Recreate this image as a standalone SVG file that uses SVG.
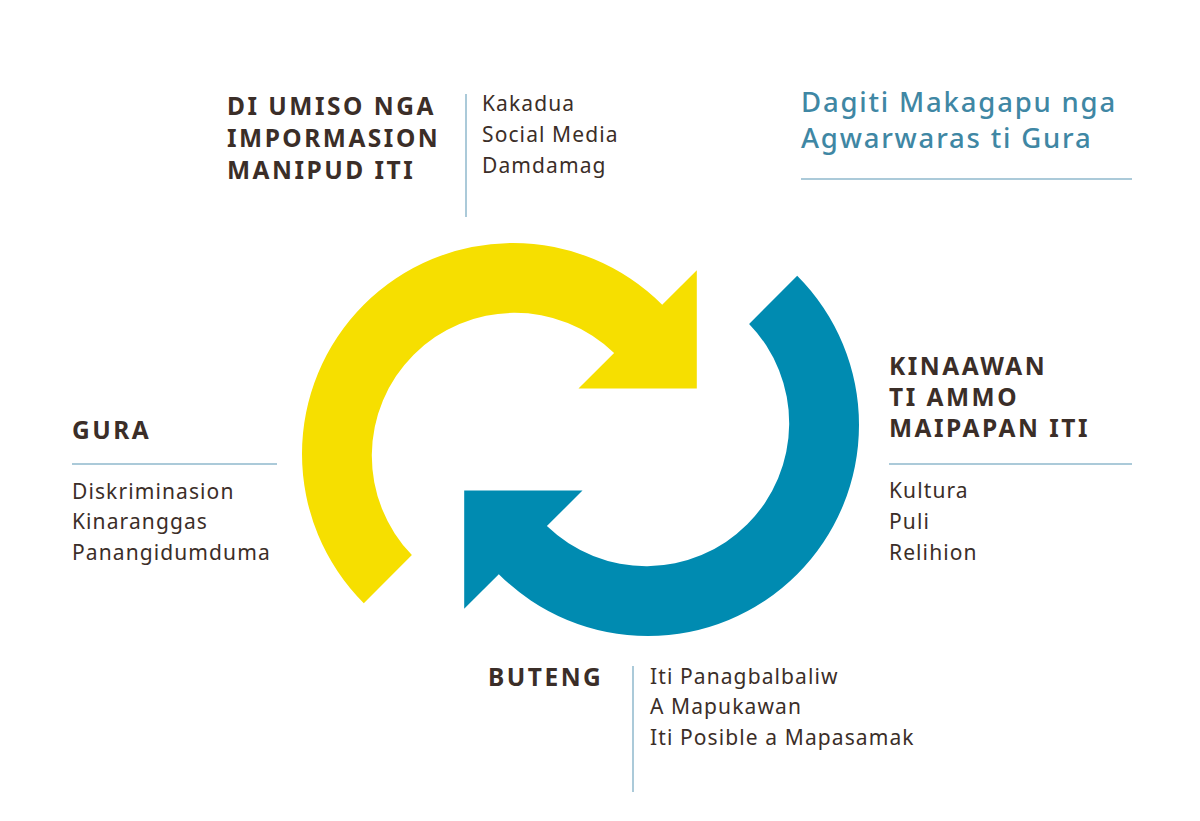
<svg xmlns="http://www.w3.org/2000/svg" width="1200" height="821" viewBox="0 0 1200 821">
<style>
.h{font-family:"Noto Sans","DejaVu Sans",sans-serif;font-weight:bold;font-size:24.5px;letter-spacing:2.5px;fill:#3b2e28}
.t{font-family:"Noto Sans","DejaVu Sans",sans-serif;font-size:21px;letter-spacing:1.1px;fill:#3b2e28}
.ti{font-family:"Noto Sans","DejaVu Sans",sans-serif;font-size:27.5px;font-weight:500;letter-spacing:1.8px;fill:#3f87a4}
.rule{stroke:#8fb9cc;stroke-width:1.5;fill:none}
</style>
<defs>
<path id="arrow" d="M363.8,603.2 A211,211 0 0 1 662.2,304.8 L696.8,270.2 L696.8,388.5 L578.5,388.5 L614.1,352.9 A143,143 0 0 0 411.9,555.1 Z"/>
</defs>
<g id="connectors">
<use href="#arrow" fill="#f6df00"/>
<use href="#arrow" fill="#008bb1" transform="rotate(180 580.5 439.5)"/>
</g>
<g id="title">
<text class="ti" x="801" y="112">Dagiti Makagapu nga</text>
<text class="ti" x="801" y="148">Agwarwaras ti Gura</text>
<line class="rule" x1="801" y1="179" x2="1132" y2="179"/>
</g>
<g id="source">
<text class="h" x="227" y="115">DI UMISO NGA</text>
<text class="h" x="227" y="147">IMPORMASION</text>
<text class="h" x="227" y="179">MANIPUD ITI</text>
<line class="rule" x1="466" y1="94" x2="466" y2="217"/>
<text class="t" x="482" y="111">Kakadua</text>
<text class="t" x="482" y="142">Social Media</text>
<text class="t" x="482" y="173">Damdamag</text>
</g>
<g id="gura">
<text class="h" x="72" y="439">GURA</text>
<line class="rule" x1="72" y1="464" x2="277" y2="464"/>
<text class="t" x="72" y="499">Diskriminasion</text>
<text class="t" x="72" y="529">Kinaranggas</text>
<text class="t" x="72" y="560">Panangidumduma</text>
</g>
<g id="kinaawan">
<text class="h" x="889" y="375">KINAAWAN</text>
<text class="h" x="889" y="406">TI AMMO</text>
<text class="h" x="889" y="437">MAIPAPAN ITI</text>
<line class="rule" x1="889" y1="464" x2="1132" y2="464"/>
<text class="t" x="889" y="498">Kultura</text>
<text class="t" x="889" y="529">Puli</text>
<text class="t" x="889" y="560">Relihion</text>
</g>
<g id="buteng">
<text class="h" x="488" y="686">BUTENG</text>
<line class="rule" x1="633" y1="666" x2="633" y2="792"/>
<text class="t" x="650" y="684">Iti Panagbalbaliw</text>
<text class="t" x="650" y="714">A Mapukawan</text>
<text class="t" x="650" y="745">Iti Posible a Mapasamak</text>
</g>
</svg>
